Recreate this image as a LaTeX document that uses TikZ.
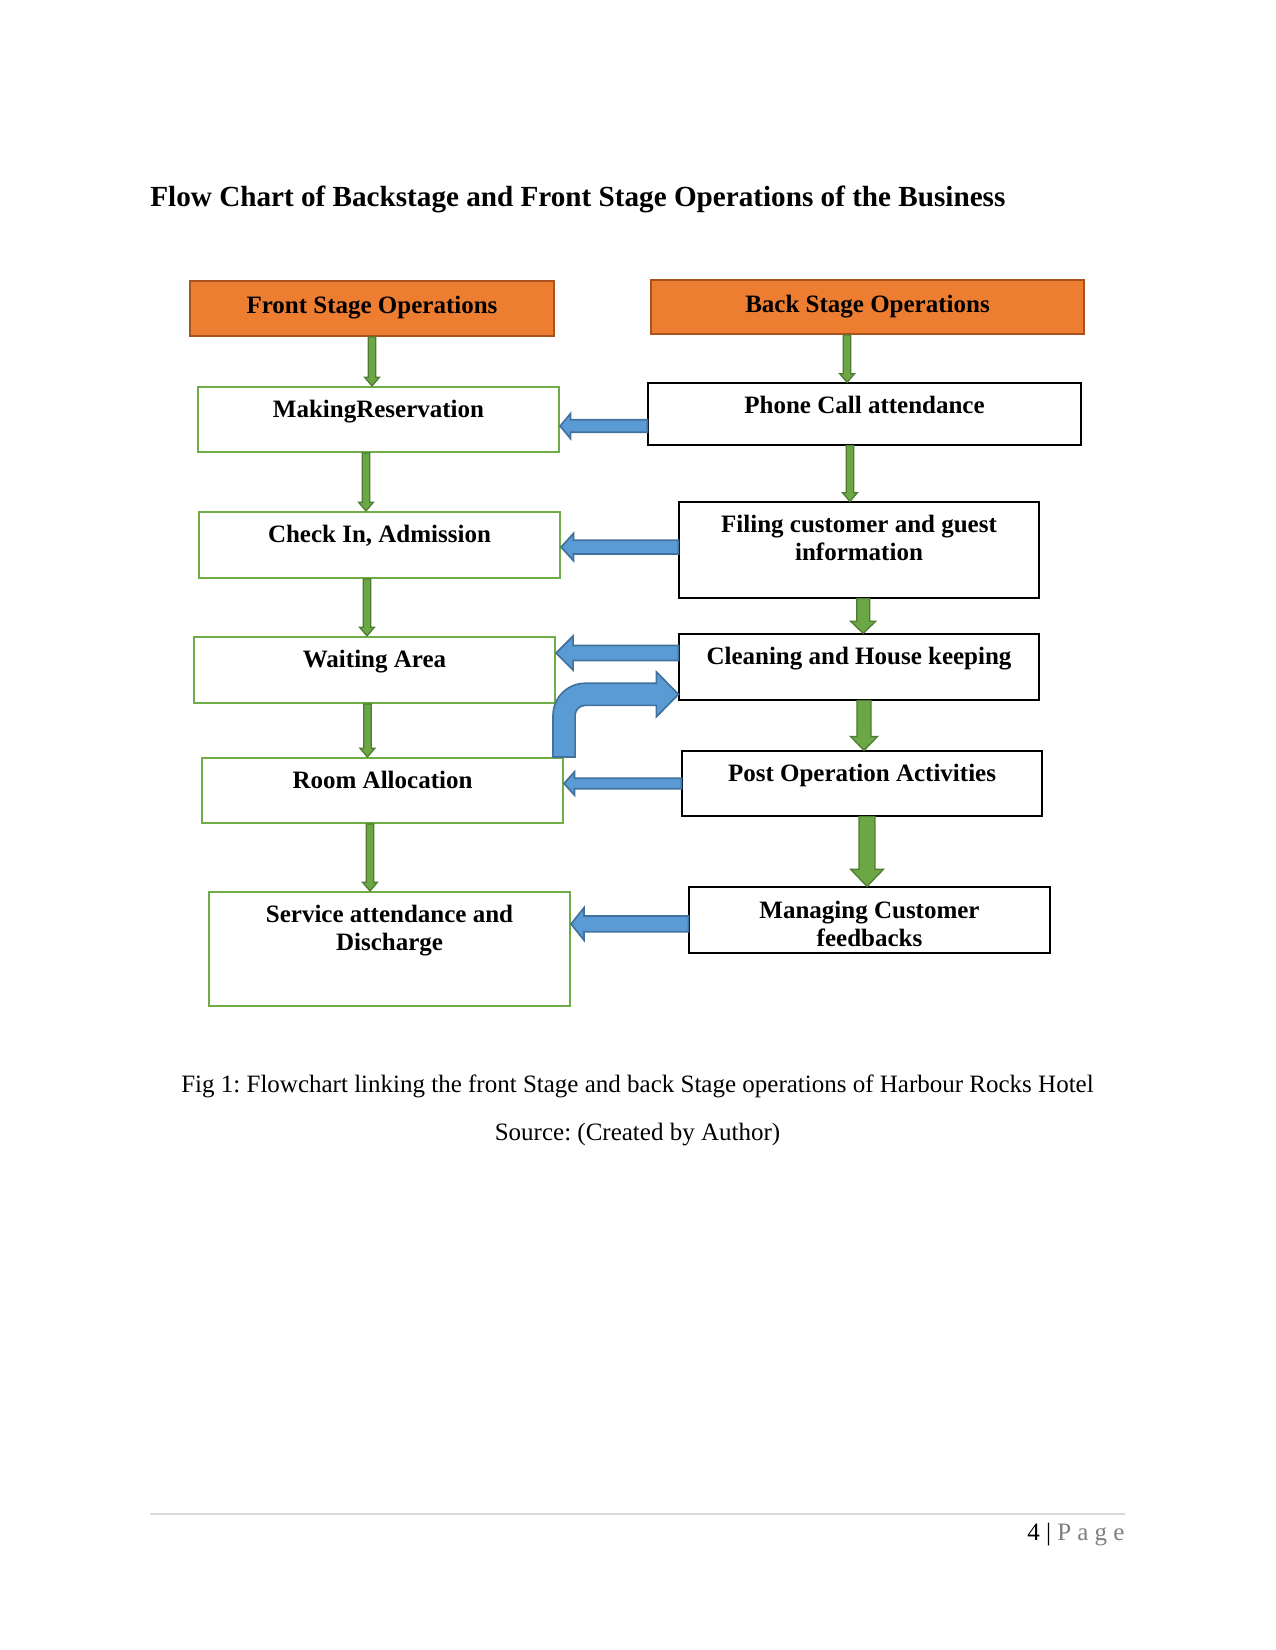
\documentclass[tikz,border=0pt]{standalone}
\usepackage{fontspec}
\setmainfont{Liberation Serif}
\usepackage{xcolor}
\usetikzlibrary{calc}
\frenchspacing

\definecolor{stagefill}{HTML}{ED7D31}
\definecolor{stageline}{HTML}{A9521D}
\definecolor{frontline}{HTML}{70AD47}
\definecolor{greenfill}{HTML}{6BA744}
\definecolor{greenline}{HTML}{4E7B31}
\definecolor{bluefill}{HTML}{5B9BD5}
\definecolor{blueline}{HTML}{41719C}
\definecolor{pagegray}{HTML}{7F7F7F}

\begin{document}
\begin{tikzpicture}[
    x=0.48pt, y=-0.48pt,
    stagebox/.style={rectangle, draw=stageline, fill=stagefill, line width=1pt, inner sep=0pt},
    frontbox/.style={rectangle, draw=frontline, line width=1pt, inner sep=0pt, minimum width=173.3pt},
    backbox/.style={rectangle, draw=black, line width=0.55pt, inner sep=0pt, minimum width=172.8pt},
    boxtext/.style={anchor=north, inner sep=0pt, yshift=-6.4pt, align=center, font=\bfseries\fontsize{12}{13.5}\selectfont},
    block/.style n args={3}{to path={
        ($(\tikztostart)!#1!90:(\tikztotarget)$)
        -- ($(\tikztotarget)!#3!(\tikztostart)!#1!90:(\tikztotarget)$)
        -- ($(\tikztotarget)!#3!(\tikztostart)!#2!90:(\tikztotarget)$)
        -- (\tikztotarget)
        -- ($(\tikztotarget)!#3!(\tikztostart)!#2!-90:(\tikztotarget)$)
        -- ($(\tikztotarget)!#3!(\tikztostart)!#1!-90:(\tikztotarget)$)
        -- ($(\tikztostart)!#1!-90:(\tikztotarget)$) -- cycle}},
    garrow/.style={draw=greenline, fill=greenfill, line width=0.6pt},
    barrow/.style={draw=blueline, fill=bluefill, line width=0.8pt},
    gslim/.style={garrow, block={1.8pt}{3.6pt}{4.2pt}}
]
    \useasboundingbox (0,0) rectangle (1275,1650);

    % Heading
    \node[anchor=base west, inner sep=0pt, font=\bfseries\fontsize{14}{16}\selectfont] (title) at (150,207)
        {Flow Chart of Backstage and Front Stage Operations of the Business};

    % Column heads
    \node[stagebox, minimum width=174.7pt, minimum height=26.4pt,
        label={[boxtext, yshift=-1pt]north:Front Stage Operations}] (front) at (372,308.5) {};
    \node[stagebox, minimum width=207.8pt, minimum height=25.9pt,
        label={[boxtext, yshift=-1pt]north:Back Stage Operations}] (back) at (867.5,307) {};

    % Front stage column
    \node[frontbox, minimum height=31.2pt, label={[boxtext]north:MakingReservation}] (making) at (378.5,419.5) {};
    \node[frontbox, minimum height=31.7pt, label={[boxtext]north:Check In, Admission}] (checkin) at (379.5,545) {};
    \node[frontbox, minimum height=31.7pt, label={[boxtext]north:Waiting Area}] (waiting) at (374.5,670) {};
    \node[frontbox, minimum height=31.2pt, label={[boxtext]north:Room Allocation}] (room) at (382.5,790.5) {};
    \node[frontbox, minimum height=54.7pt, label={[boxtext]north:Service attendance and\\Discharge}] (service) at (389.5,949) {};

    % Back stage column
    \node[backbox, minimum width=207.8pt, minimum height=29.8pt, label={[boxtext]north:Phone Call attendance}] (phone) at (864.5,414) {};
    \node[backbox, minimum height=46.1pt, label={[boxtext]north:Filing customer and guest\\information}] (filing) at (859,550) {};
    \node[backbox, minimum height=31.7pt, label={[boxtext]north:Cleaning and House keeping}] (cleaning) at (859,667) {};
    \node[backbox, minimum height=31.2pt, label={[boxtext]north:Post Operation Activities}] (post) at (862,783.5) {};
    \node[backbox, minimum width=173.3pt, minimum height=31.7pt, label={[boxtext, yshift=-0.5pt]north:Managing Customer\\feedbacks}] (managing) at (869.5,920) {};

    % Down arrows, front stage
    \draw[gslim] (front.south) to (front.south |- making.north);
    \draw[gslim] ([xshift=-6pt]making.south) to ([xshift=-6pt]making.south |- checkin.north);
    \draw[gslim] ([xshift=-6pt]checkin.south) to ([xshift=-6pt]checkin.south |- waiting.north);
    \draw[gslim] ([xshift=-3.4pt]waiting.south) to ([xshift=-3.4pt]waiting.south |- room.north);
    \draw[gslim] ([xshift=-6pt]room.south) to ([xshift=-6pt]room.south |- service.north);

    % Down arrows, back stage
    \draw[gslim] ([xshift=-9.8pt]back.south) to ([xshift=-9.8pt]back.south |- phone.north);
    \draw[gslim] ([xshift=-7pt]phone.south) to ([xshift=-7pt]phone.south |- filing.north);
    \draw[garrow, block={3.1pt}{6pt}{5.8pt}] ([xshift=2pt]filing.south) to ([xshift=2pt]filing.south |- cleaning.north);
    \draw[garrow, block={3.4pt}{6.5pt}{6.7pt}] ([xshift=2.4pt]cleaning.south) to ([xshift=2.4pt]cleaning.south |- post.north);
    \draw[garrow, block={3.8pt}{7.9pt}{8.2pt}] ([xshift=2.4pt]post.south) to ([xshift=2.4pt]post.south |- managing.north);

    % Links back -> front
    \draw[barrow, block={3pt}{6pt}{5pt}] ([yshift=-5.8pt]phone.west) to ([yshift=-5.8pt]phone.west -| making.east);
    \draw[barrow, block={3.3pt}{6.6pt}{6pt}] ([yshift=1.4pt]filing.west) to ([yshift=1.4pt]filing.west -| checkin.east);
    \draw[barrow, block={3.6pt}{8.2pt}{8.2pt}] ([yshift=6.7pt]cleaning.west) to ([yshift=6.7pt]cleaning.west -| waiting.east);
    \draw[barrow, block={2.5pt}{5.6pt}{5pt}] (post.west) to (post.west -| room.east);
    \draw[barrow, block={3.8pt}{7.8pt}{6.2pt}] ([yshift=-1.9pt]managing.west) to ([yshift=-1.9pt]managing.west -| service.east);

    % Bent arrow room -> cleaning
    \draw[barrow] let \p1=(room.north east), \p2=([yshift=3pt]cleaning.south west) in
        (\x1-5.3pt,\y1) -- (\x1-5.3pt,\y2+5.3pt-15.4pt)
        .. controls (\x1-5.3pt,\y2+5.3pt-6.9pt) and (\x1-5.3pt+6.9pt,\y2+5.3pt) .. (\x1-5.3pt+15.4pt,\y2+5.3pt)
        -- (\x2-10.6pt,\y2+5.3pt) -- (\x2-10.6pt,\y2+10.8pt) -- (\x2,\y2)
        -- (\x2-10.6pt,\y2-10.8pt) -- (\x2-10.6pt,\y2-5.3pt) -- (\x1+5.3pt+4.8pt,\y2-5.3pt)
        .. controls (\x1+5.3pt+2.15pt,\y2-5.3pt) and (\x1+5.3pt,\y2-5.3pt-2.15pt) .. (\x1+5.3pt,\y2-5.3pt-4.8pt)
        -- (\x1+5.3pt,\y1) -- cycle;

    % Caption
    \node[anchor=base, inner sep=0pt, font=\fontsize{12}{14}\selectfont] (caption) at (637.5,1092)
        {Fig 1: Flowchart linking the front Stage and back Stage operations of Harbour Rocks Hotel};
    \node[anchor=base, inner sep=0pt, font=\fontsize{12}{14}\selectfont] (source) at (637.5,1140)
        {Source: (Created by Author)};

    % Footer
    \draw[black!15, line width=0.5pt] (150,1514) -- (1125,1514);
    \node[anchor=base east, inner sep=0pt, font=\fontsize{12}{14}\selectfont] (pagenum) at (1125,1540)
        {4 | \textcolor{pagegray}{P\hspace{3pt}a\hspace{3pt}g\hspace{3pt}e}};
\end{tikzpicture}
\end{document}
